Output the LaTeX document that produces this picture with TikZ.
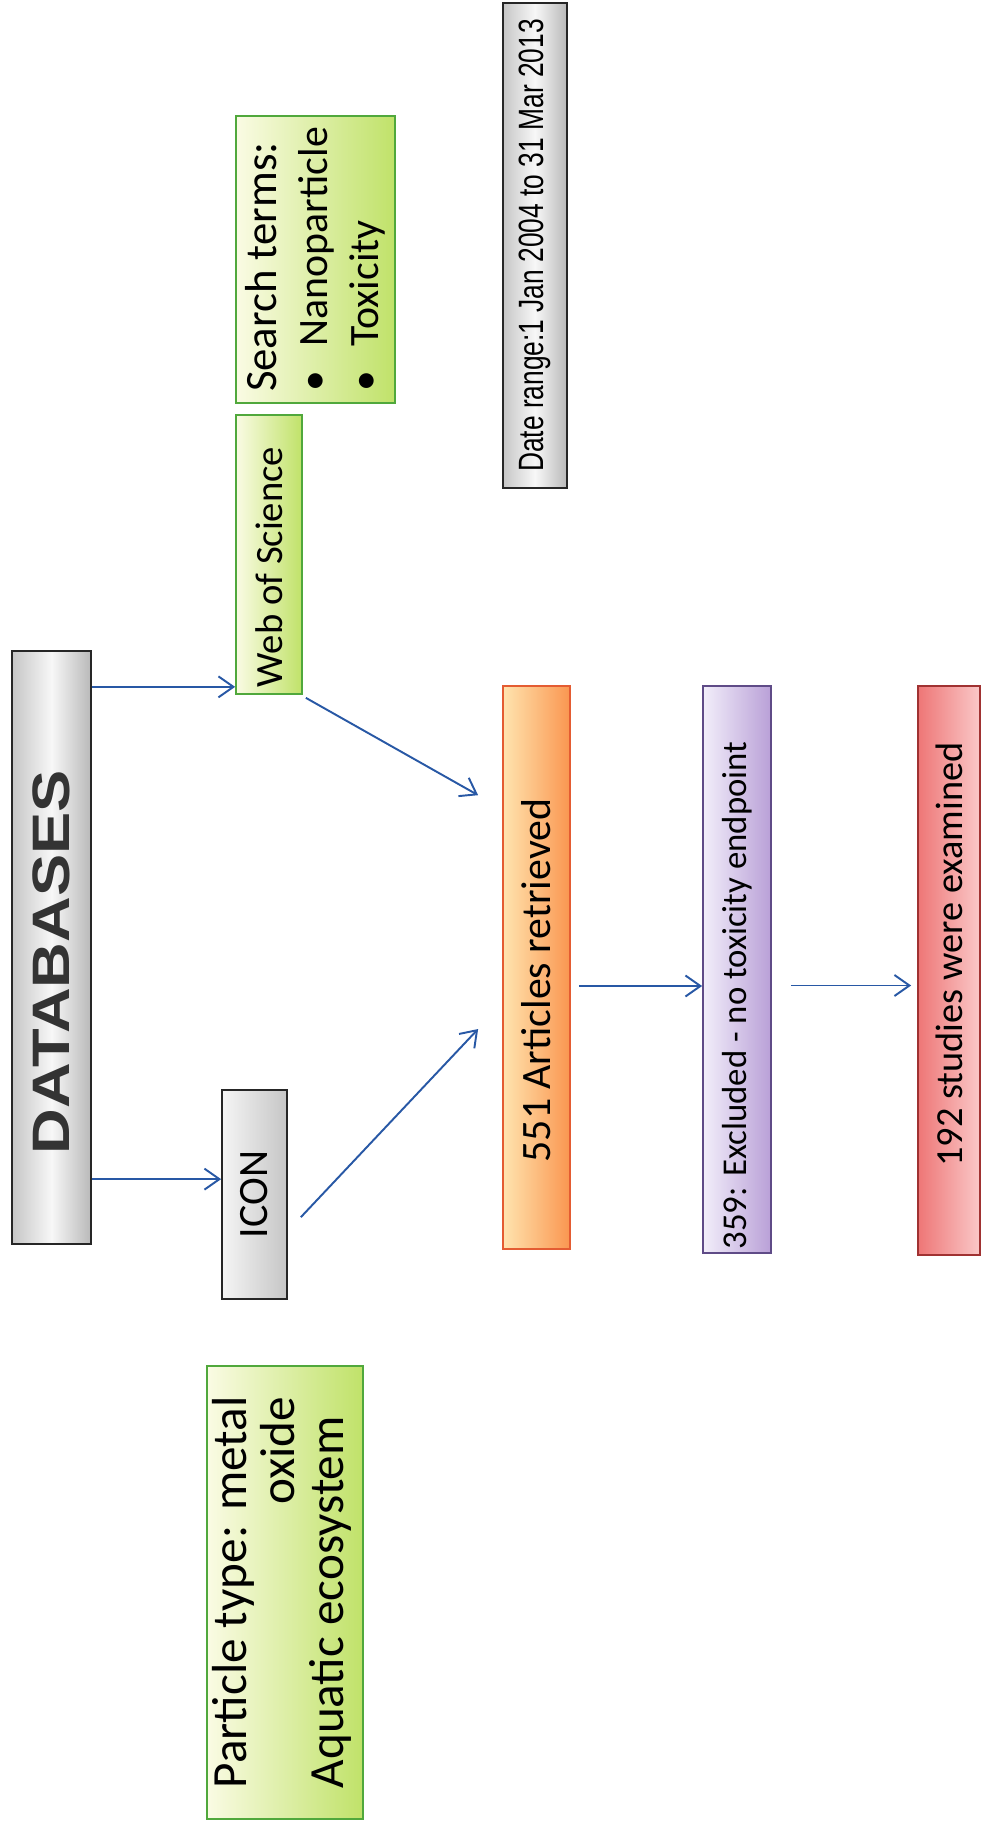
\documentclass[tikz,border=0pt]{standalone}
\usepackage{graphicx}
\usepackage{fontspec}
\setmainfont{Carlito}
\newfontfamily\narrowfont{Liberation Sans}
\usepackage{xcolor}
\usepackage{tikz}
\usetikzlibrary{arrows.meta,positioning}

\definecolor{flowblue}{RGB}{40,88,165}
\definecolor{leafline}{RGB}{80,168,60}
\definecolor{leafpale}{RGB}{250,251,228}
\definecolor{leafdeep}{RGB}{192,226,105}
\definecolor{orangeline}{RGB}{228,92,50}
\definecolor{orangepale}{RGB}{255,228,175}
\definecolor{orangedeep}{RGB}{250,150,80}
\definecolor{lilacline}{RGB}{95,75,135}
\definecolor{lilacpale}{RGB}{242,238,250}
\definecolor{lilacdeep}{RGB}{185,160,215}
\definecolor{roseline}{RGB}{160,50,50}
\definecolor{rosedeep}{RGB}{238,118,118}
\definecolor{rosepale}{RGB}{250,200,200}

\tikzset{
  bar/.style={draw, rotate=90, inner sep=0pt, align=center, line width=1pt},
  bevel/.style={bar, draw=black!85, left color=gray!45, right color=gray!55, middle color=gray!6},
  leaf/.style={bar, draw=leafline, left color=leafpale, right color=leafdeep},
  flow/.style={draw=flowblue, line width=1.1pt, -{Straight Barb[length=0.3cm,width=0.42cm]}}
}

\begin{document}
\begin{tikzpicture}[x=0.02cm, y=-0.02cm, every node/.style={font=\fontsize{23.8}{29}\selectfont}]
\useasboundingbox (0,0) rectangle (981,1823);
% databases and sources
\node[bevel, minimum width=11.86cm, minimum height=1.58cm] (db) at (51.5,947.5)
  {\narrowfont\bfseries\fontsize{30}{34}\selectfont\color{black!80}\scalebox{1.2}[1]{DATABASES}\hspace*{0.6cm}};
\node[leaf, minimum width=5.58cm, minimum height=1.32cm] (wos) at (269,554.5)
  {\fontsize{22}{26}\selectfont Web of Science\hspace*{0.5cm}};
\node[leaf, minimum width=5.74cm, minimum height=3.18cm, align=left] (search) at (315.5,259.5)
  {\fontsize{25.5}{24}\selectfont Search terms:\\\textbullet\hspace{0.6em}Nanoparticle\\\textbullet\hspace{0.6em}Toxicity};
\node[bar, draw=black!85, left color=gray!8, right color=gray!45, minimum width=4.18cm, minimum height=1.3cm] (icon) at (254.5,1194.5) {ICON};
\node[leaf, minimum width=9.06cm, minimum height=3.12cm] (particle) at (285,1592.5)
  {\fontsize{28}{27.6}\selectfont\begin{tabular}{@{}l@{}}Particle type: metal\\\hfill oxide\\Aquatic ecosystem\end{tabular}};
\node[bevel, minimum width=9.7cm, minimum height=1.28cm] (dates) at (535,245.5)
  {\narrowfont\fontsize{20}{24}\selectfont\scalebox{0.75}[1]{Date range:1 Jan 2004 to 31 Mar 2013}};
% results
\node[bar, draw=orangeline, left color=orangepale, right color=orangedeep, minimum width=11.26cm, minimum height=1.34cm] (retrieved) at (536.5,967.5)
  {551 Articles retrieved\hspace*{0.52cm}};
\node[bar, draw=lilacline, left color=lilacpale, right color=lilacdeep, minimum width=11.34cm, minimum height=1.36cm] (excluded) at (737,969.5)
  {\fontsize{19.8}{24}\selectfont 359: Excluded - no toxicity endpoint\hspace*{1.04cm}};
\node[bar, draw=roseline, left color=rosedeep, right color=rosepale, minimum width=11.38cm, minimum height=1.24cm] (examined) at (949,970.5)
  {\fontsize{21.8}{26}\selectfont\hspace*{0.64cm}192 studies were examined};

\coordinate (wosin) at ([yshift=0.16cm]wos.north west);
\coordinate (iconin) at ([yshift=-1.8cm]icon.north east);
\coordinate (exin) at ([yshift=-0.33cm]excluded.north);
\coordinate (examin) at ([yshift=-0.3cm]examined.north);
\draw[flow] (db.south |- wosin) -- (wosin);
\draw[flow] (db.south |- iconin) -- (iconin);
\draw[flow] ([shift={(3,3)}]wos.south west) -- ([shift={(-24,110)}]retrieved.north east);
\draw[flow] ([shift={(13,128)}]icon.south east) -- ([shift={(-24,61.5)}]retrieved.north);
\draw[flow, shorten <=0.16cm] (retrieved.south |- exin) -- (exin);
\draw[flow, shorten <=0.38cm, shorten >=0.12cm] (excluded.south |- examin) -- (examin);
\end{tikzpicture}
\end{document}
